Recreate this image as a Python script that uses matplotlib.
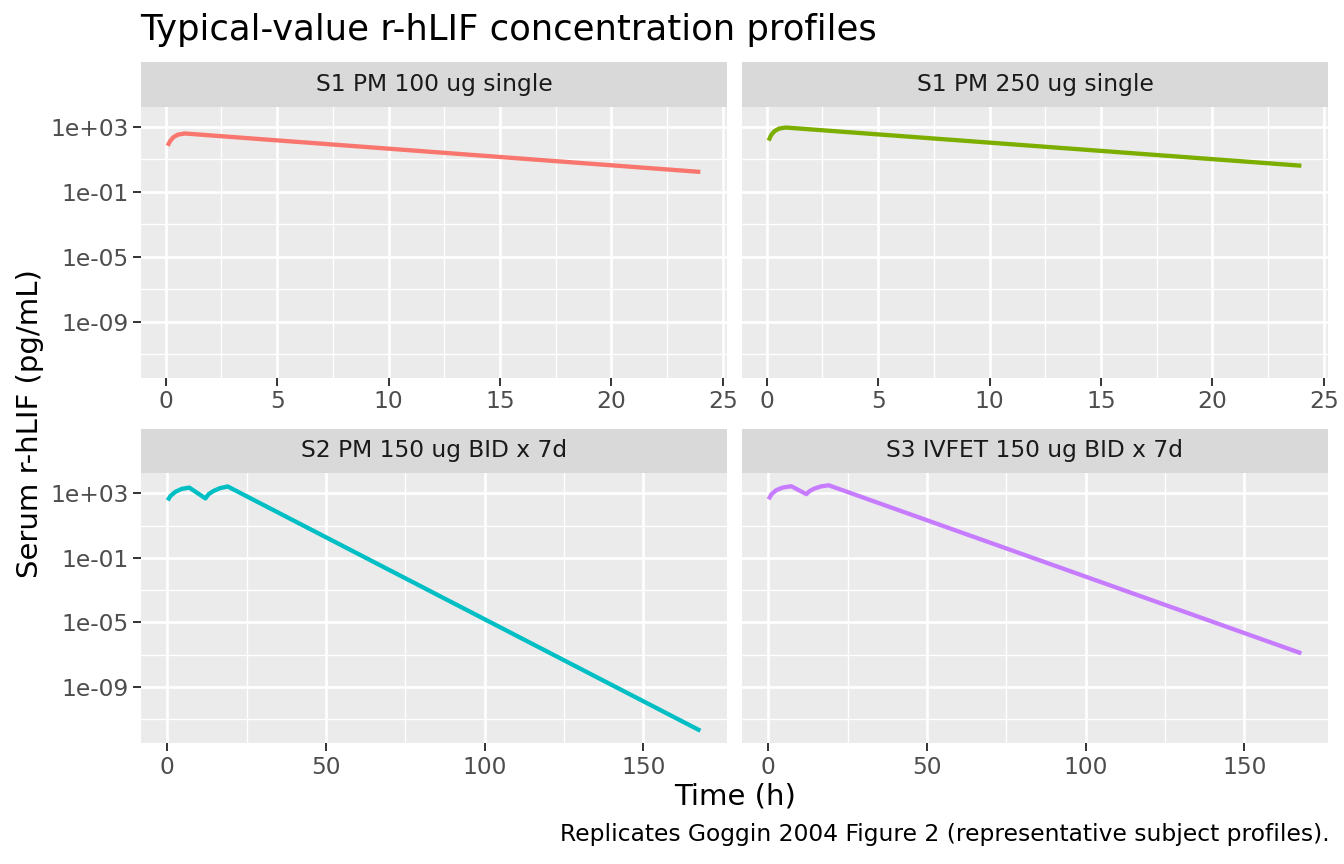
import numpy as np
import matplotlib
matplotlib.use('Agg')
import matplotlib.pyplot as plt
from matplotlib.ticker import FixedLocator, FuncFormatter

# panel titles
panels = ['S1 PM 100 ug single', 'S1 PM 250 ug single',
          'S2 PM 150 ug BID x 7d', 'S3 IVFET 150 ug BID x 7d']
colors = ['#F8766D', '#7CAE00', '#00BFC4', '#C77CFF']

# (time h, conc pg/mL)
t_s1_100 = [0.083, 0.2, 0.35, 0.55, 0.85, 24]
c_s1_100 = [70, 140, 240, 340, 400, 1.7]

t_s1_250 = [0.083, 0.2, 0.35, 0.55, 0.85, 24]
c_s1_250 = [145, 330, 560, 800, 930, 4.1]

t_s2 = [0.083, 1, 2.5, 4.5, 6.9, 12, 13, 14.5, 16.5, 19, 168]
c_s2 = [370, 700, 1250, 1900, 2300, 490, 900, 1400, 2100, 2700, 1.9e-12]

t_s3 = [0.083, 1, 2.5, 4.5, 7.2, 12, 13, 14.5, 16.5, 19, 168]
c_s3 = [430, 900, 1600, 2300, 2800, 900, 1400, 2000, 2700, 3200, 1.2e-7]

times = [t_s1_100, t_s1_250, t_s2, t_s3]
concs = [c_s1_100, c_s1_250, c_s2, c_s3]

y_major = [1e3, 1e-1, 1e-5, 1e-9]
y_minor = [1e1, 1e-3, 1e-7, 1e-11]
x_top = [0, 5, 10, 15, 20, 25]
x_top_minor = [2.5, 7.5, 12.5, 17.5, 22.5]
x_bot = [0, 50, 100, 150]
x_bot_minor = [25, 75, 125]

W, H = 1344, 864
fig = plt.figure(figsize=(W / 100, H / 100), dpi=100)


def box(x0, y0, x1, y1):
    # pixel box (top-left origin) -> figure fraction
    return [x0 / W, 1 - y1 / H, (x1 - x0) / W, (y1 - y0) / H]


lefts = [(141, 727), (742, 1328)]
rows = [(62, 106.5, 378), (429, 473, 743)]

# shared log y-range with 5% expansion like ggplot
allc = np.concatenate([np.array(c, dtype=float) for c in concs])
lo, hi = np.log10(allc.min()), np.log10(allc.max())
pad = 0.05 * (hi - lo)
ylim = (10 ** (lo - pad), 10 ** (hi + pad))

for i in range(4):
    r, c = divmod(i, 2)
    x0, x1 = lefts[c]
    s0, p0, p1 = rows[r]
    ax = fig.add_axes(box(x0, p0, x1, p1))
    st = fig.add_axes(box(x0, s0, x1, p0))
    st.set_facecolor('#D9D9D9')
    st.set_xticks([])
    st.set_yticks([])
    for sp in st.spines.values():
        sp.set_visible(False)
    st.text(0.5, 0.5, panels[i], ha='center', va='center',
            fontsize=16.8, color='#1A1A1A', transform=st.transAxes)

    ax.set_facecolor('#EBEBEB')
    for sp in ax.spines.values():
        sp.set_visible(False)
    ax.plot(times[i], concs[i], color=colors[i], lw=3.1,
            solid_capstyle='butt', solid_joinstyle='round')
    ax.set_yscale('log')
    ax.set_ylim(ylim)
    tx = np.array(times[i], dtype=float)
    xpad = 0.05 * (tx.max() - tx.min())
    ax.set_xlim(tx.min() - xpad, tx.max() + xpad)

    ax.yaxis.set_major_locator(FixedLocator(y_major))
    ax.yaxis.set_minor_locator(FixedLocator(y_minor))
    ax.yaxis.set_major_formatter(FuncFormatter(lambda v, p: f'{v:.0e}'))
    ax.yaxis.set_minor_formatter(FuncFormatter(lambda v, p: ''))
    if r == 0:
        ax.xaxis.set_major_locator(FixedLocator(x_top))
        ax.xaxis.set_minor_locator(FixedLocator(x_top_minor))
    else:
        ax.xaxis.set_major_locator(FixedLocator(x_bot))
        ax.xaxis.set_minor_locator(FixedLocator(x_bot_minor))

    ax.grid(True, which='major', color='white', lw=1.9)
    ax.grid(True, which='minor', color='white', lw=1.0)
    ax.set_axisbelow(True)
    ax.tick_params(which='major', length=6, width=1.4, color='#333333',
                   labelcolor='#4D4D4D', labelsize=16.8, pad=3)
    ax.tick_params(which='minor', length=0)
    if c == 1:
        ax.tick_params(axis='y', which='both', left=False, labelleft=False)

fig.text(140 / W, 1 - 30 / H, 'Typical-value r-hLIF concentration profiles',
         fontsize=25.5, color='black', ha='left', va='center')
fig.text(735 / W, 1 - 797 / H, 'Time (h)', fontsize=21,
         ha='center', va='center')
fig.text(30 / W, 1 - 424 / H, 'Serum r-hLIF (pg/mL)', fontsize=21,
         ha='center', va='center', rotation=90)
fig.text(1330 / W, 1 - 835 / H,
         'Replicates Goggin 2004 Figure 2 (representative subject profiles).',
         fontsize=16.8, ha='right', va='center')

fig.savefig('out.png', dpi=100, facecolor='white')
